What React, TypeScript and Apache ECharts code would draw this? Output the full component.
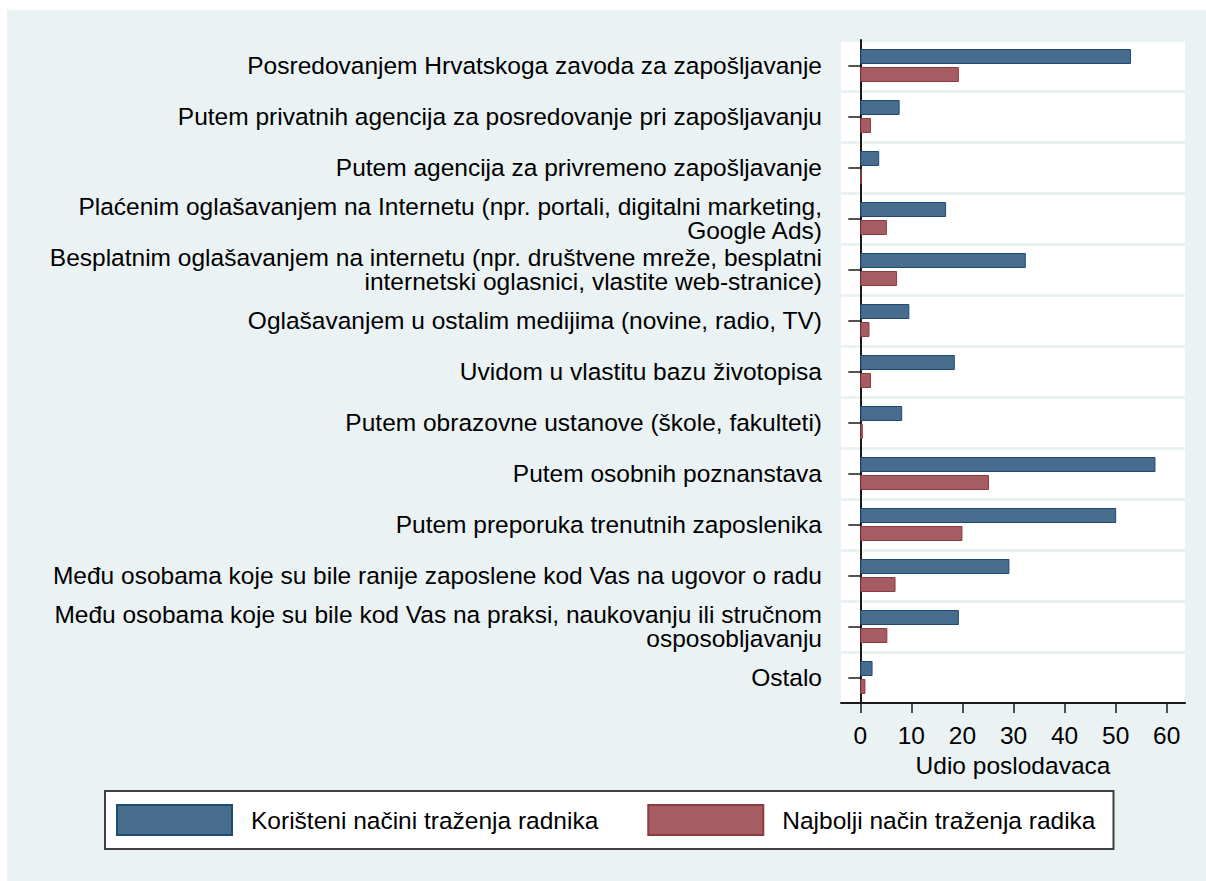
import React, { useEffect, useRef } from "react";
import * as echarts from "echarts";

const categories: string[] = [
  "Posredovanjem Hrvatskoga zavoda za zapošljavanje",
  "Putem privatnih agencija za posredovanje pri zapošljavanju",
  "Putem agencija za privremeno zapošljavanje",
  "Plaćenim oglašavanjem na Internetu (npr. portali, digitalni marketing,\nGoogle Ads)",
  "Besplatnim oglašavanjem na internetu (npr. društvene mreže, besplatni\ninternetski oglasnici, vlastite web-stranice)",
  "Oglašavanjem u ostalim medijima (novine, radio, TV)",
  "Uvidom u vlastitu bazu životopisa",
  "Putem obrazovne ustanove (škole, fakulteti)",
  "Putem osobnih poznanstava",
  "Putem preporuka trenutnih zaposlenika",
  "Među osobama koje su bile ranije zaposlene kod Vas na ugovor o radu",
  "Među osobama koje su bile kod Vas na praksi, naukovanju ili stručnom\nosposobljavanju",
  "Ostalo",
];

const usedMethods: number[] = [53.0, 7.7, 3.7, 16.8, 32.4, 9.6, 18.5, 8.2, 57.8, 50.1, 29.2, 19.3, 2.4];
const bestMethod: number[] = [19.3, 2.1, 0.3, 5.2, 7.2, 1.8, 2.1, 0.5, 25.2, 20.0, 6.9, 5.3, 1.0];

const xTicks: number[] = [0, 10, 20, 30, 40, 50, 60];

const seriesNames: string[] = ["Korišteni načini traženja radnika", "Najbolji način traženja radika"];
const axisName = "Udio poslodavaca";

const FONT = "'Liberation Sans', Arial, sans-serif";
const BG = "#eaf2f3";

export default function App() {
  const ref = useRef<HTMLDivElement>(null);
  useEffect(() => {
    if (!ref.current) return;
    const chart = echarts.init(ref.current, null, { renderer: "svg" });
    chart.setOption({
      animation: false,
      backgroundColor: BG,
      textStyle: { fontFamily: FONT },
      grid: {
        left: 834,
        right: 21,
        top: 30,
        bottom: 178,
        show: true,
        backgroundColor: "#ffffff",
        borderWidth: 0,
      },
      xAxis: {
        type: "value",
        min: -3.78,
        max: 63.58,
        name: axisName,
        nameLocation: "middle",
        nameGap: 43,
        nameTextStyle: { color: "#000", fontSize: 24.5, fontFamily: FONT },
        axisLine: { show: true, lineStyle: { color: "#1a1a1a", width: 2 } },
        axisTick: {
          show: true,
          length: 10,
          customValues: xTicks,
          lineStyle: { color: "#1a1a1a", width: 1.5 },
        },
        axisLabel: {
          customValues: xTicks,
          color: "#000",
          fontSize: 24.5,
          margin: 20,
          fontFamily: FONT,
        },
        splitLine: { show: false },
      },
      yAxis: {
        type: "category",
        data: categories,
        inverse: true,
        axisLine: { show: true, lineStyle: { color: "#1a1a1a", width: 2 } },
        axisTick: {
          show: true,
          alignWithLabel: true,
          length: 12,
          lineStyle: { color: "#1a1a1a", width: 1.5 },
        },
        axisLabel: {
          color: "#000",
          fontSize: 24.5,
          lineHeight: 24.5,
          margin: 19,
          align: "right",
          fontFamily: FONT,
          interval: 0,
        },
        splitLine: { show: true, interval: 0, lineStyle: { color: BG, width: 3 } },
      },
      legend: {
        left: 98,
        top: 781,
        orient: "horizontal",
        icon: "rect",
        backgroundColor: "#ffffff",
        borderColor: "#404040",
        borderWidth: 2,
        padding: [13, 18, 13, 11],
        itemWidth: 115,
        itemHeight: 30,
        itemGap: 49,
        textStyle: { color: "#000", fontSize: 24.5, fontFamily: FONT, padding: [0, 0, 0, 14] },
        data: seriesNames,
      },
      series: [
        {
          name: seriesNames[0],
          type: "bar",
          data: usedMethods,
          barWidth: 15,
          barGap: "20%",
          itemStyle: { color: "#486c8e", borderColor: "#1f4a72", borderWidth: 1 },
        },
        {
          name: seriesNames[1],
          type: "bar",
          data: bestMethod,
          barWidth: 15,
          barGap: "20%",
          itemStyle: { color: "#a55c62", borderColor: "#8f3a41", borderWidth: 1 },
        },
      ],
    });
    return () => chart.dispose();
  }, []);
  return (
    <div
      ref={ref}
      style={{ position: "absolute", left: 7, top: 10, width: 1199, height: 871 }}
    />
  );
}
